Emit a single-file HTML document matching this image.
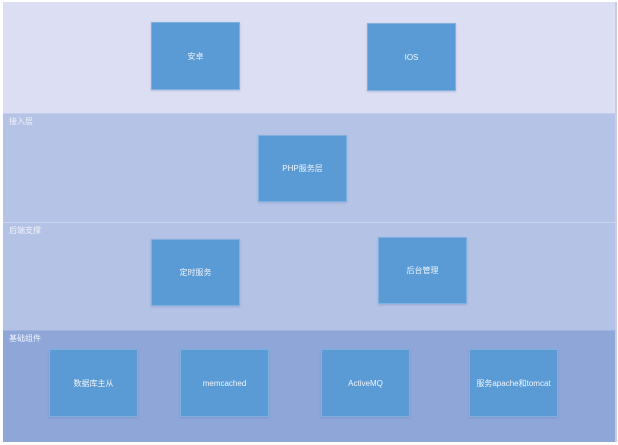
<!DOCTYPE html>
<html><head><meta charset="utf-8"><style>
html,body{margin:0;padding:0;background:#fff;width:618px;height:445px;overflow:hidden;font-family:"Liberation Sans","Noto Sans CJK SC",sans-serif}
.band{position:absolute;left:3px;width:612px;border-right:2px solid #c9cde3}
.lbl{position:absolute;left:6px;top:2px;font-size:8px;color:#f2f4fb}
.box{position:absolute;width:89px;height:67px;background:#5b9bd5;border:1px solid #7fb0e0;box-sizing:border-box;color:#eef4fb;font-size:8px;display:flex;align-items:center;justify-content:center;box-shadow:0 1px 2px rgba(80,100,160,.25)}
</style></head><body>
<div class="band" style="top:2px;height:111px;background:#dcdff3"></div>
<div class="band" style="top:113px;height:109px;background:#b5c3e7;border-top:1px solid #c4cdeb"><div class="lbl">接入层</div></div>
<div class="band" style="top:222px;height:108px;background:#b4c2e6;border-top:1px solid #c9d2ee"><div class="lbl">后端支撑</div></div>
<div class="band" style="top:330px;height:111px;background:#8fa6d9;border-top:1px solid #a3b3e0"><div class="lbl">基础组件</div></div>
<div class="box" style="left:151px;top:22px;height:68px">安卓</div>
<div class="box" style="left:367px;top:23px;height:68px">IOS</div>
<div class="box" style="left:258px;top:135px">PHP服务层</div>
<div class="box" style="left:151px;top:239px">定时服务</div>
<div class="box" style="left:378px;top:237px">后台管理</div>
<div class="box" style="left:49px;top:349px;height:68px">数据库主从</div>
<div class="box" style="left:180px;top:349px;height:68px">memcached</div>
<div class="box" style="left:321px;top:349px;height:68px">ActiveMQ</div>
<div class="box" style="left:469px;top:349px;height:68px">服务apache和tomcat</div>
</body></html>
